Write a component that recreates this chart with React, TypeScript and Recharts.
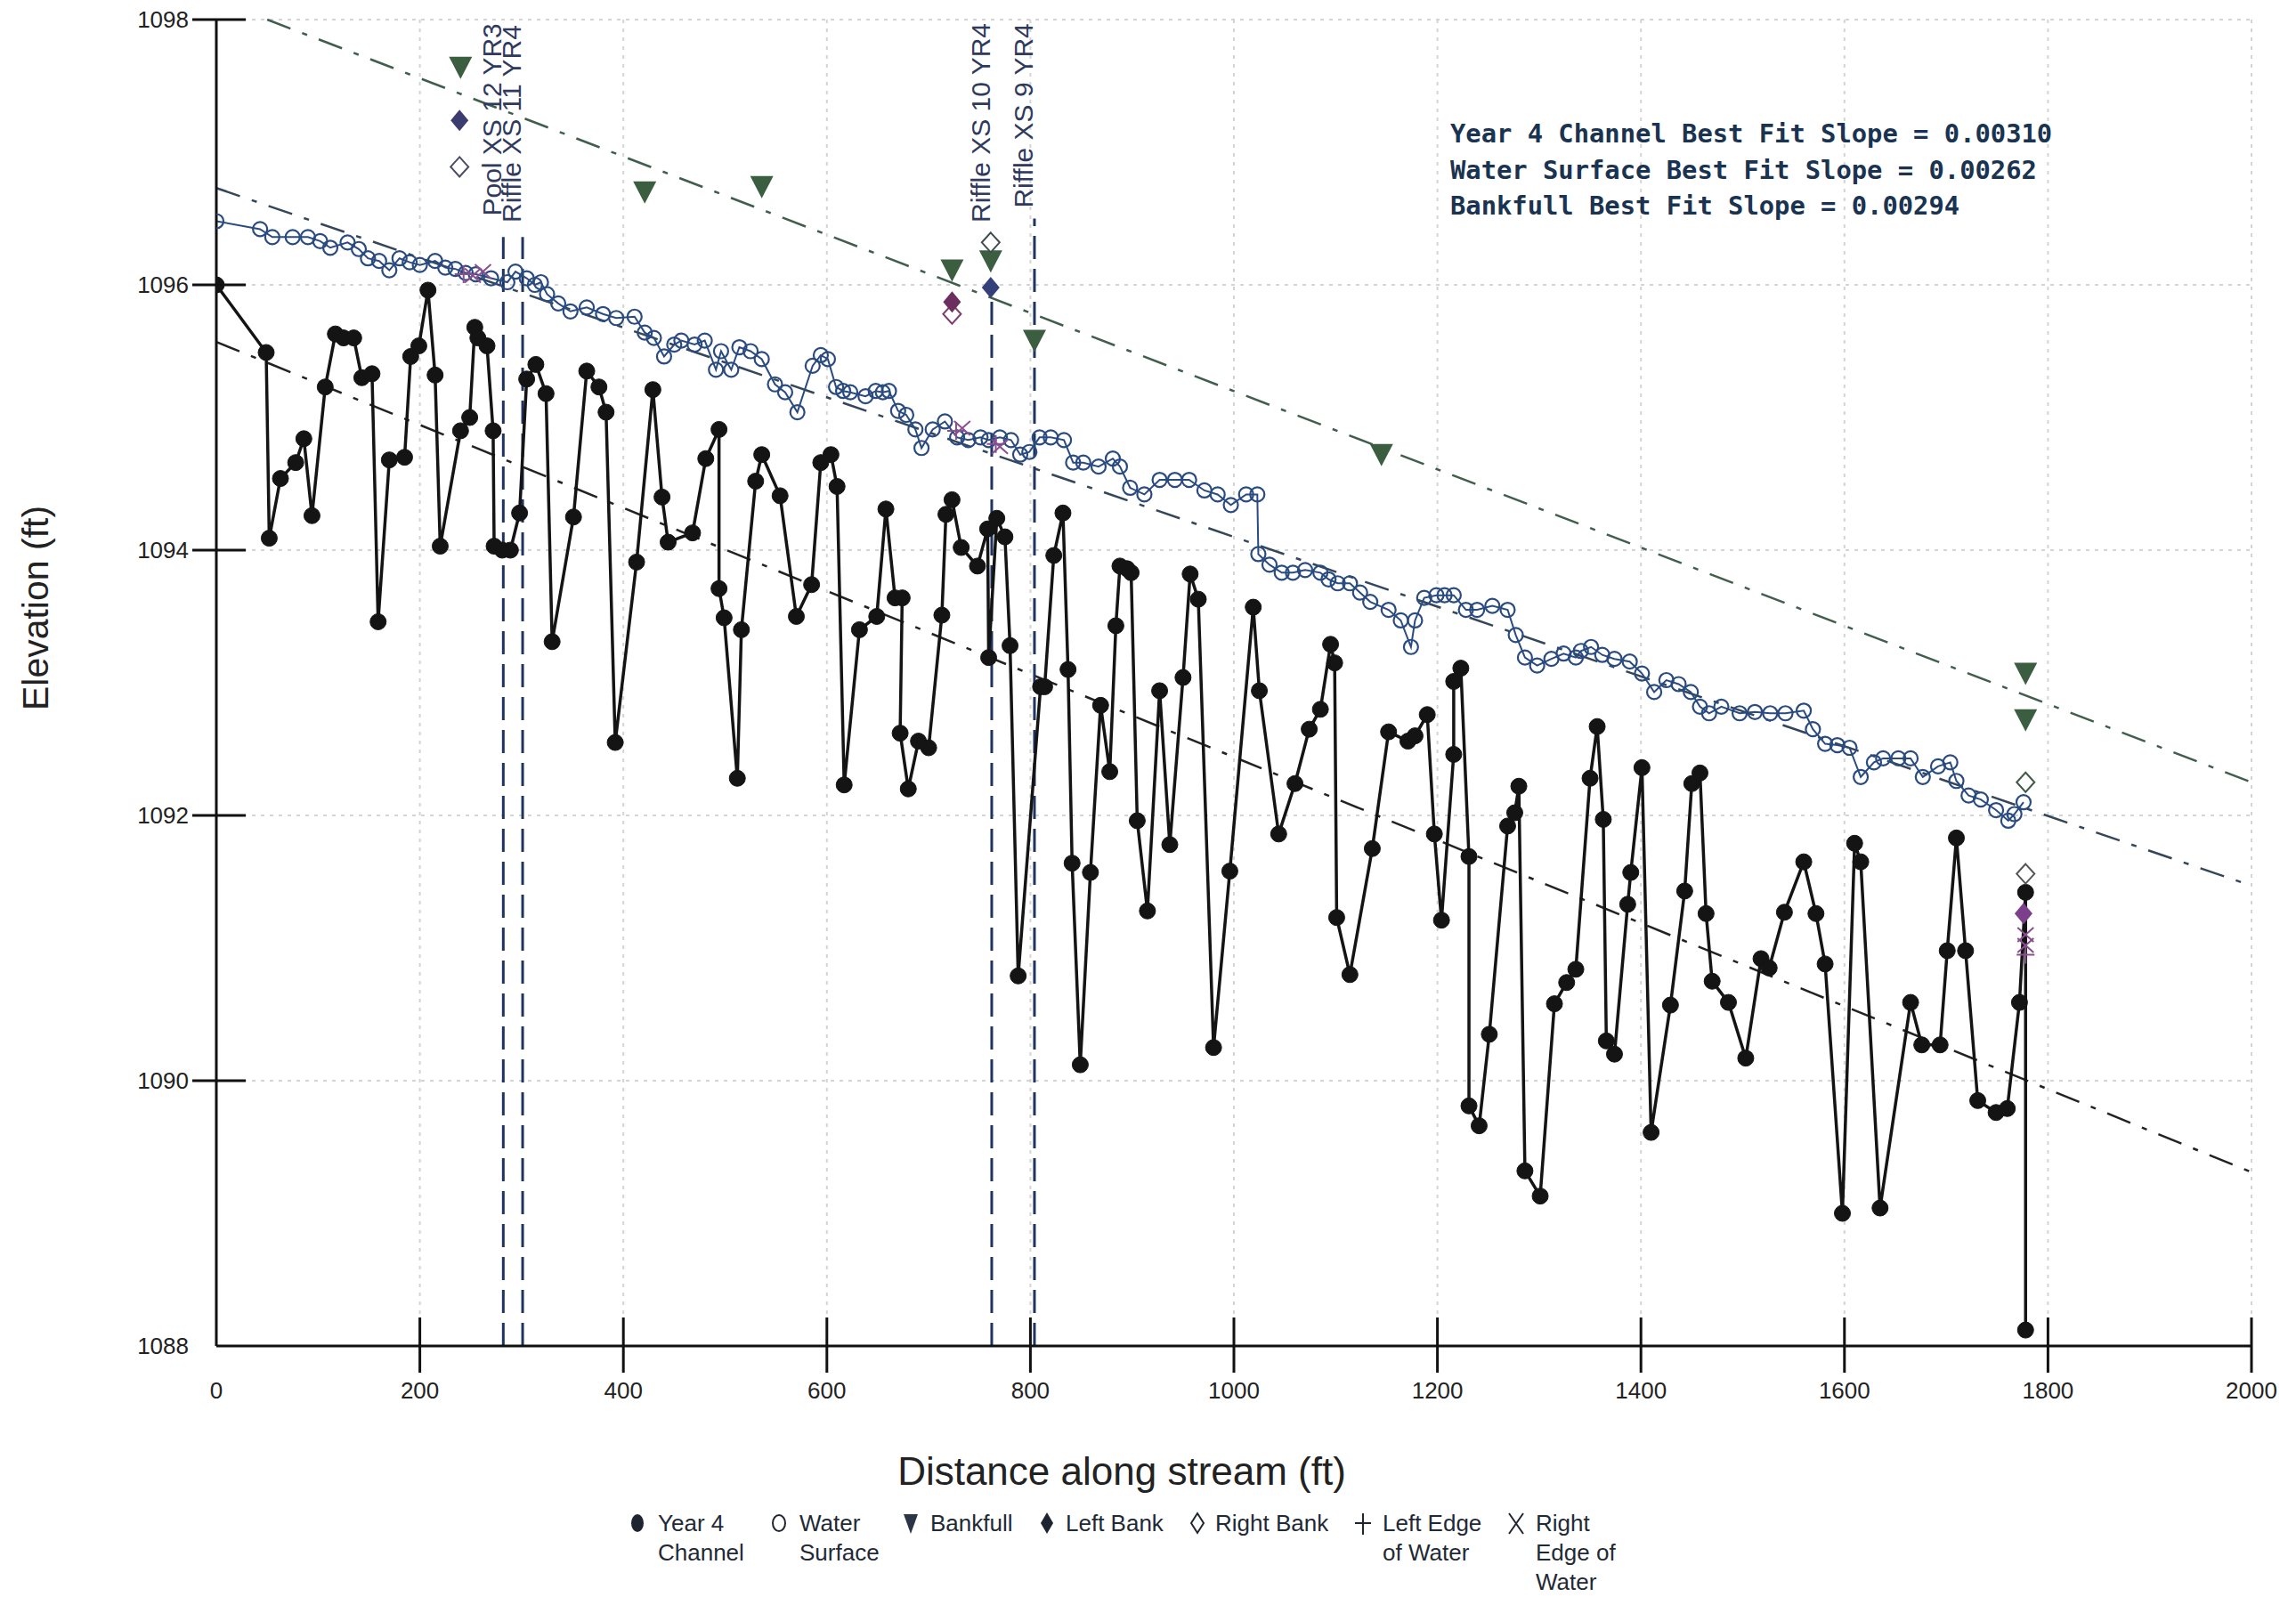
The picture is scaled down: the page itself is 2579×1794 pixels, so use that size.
import React from 'react';
import { ComposedChart, Line, Scatter, XAxis, YAxis, CartesianGrid, ReferenceLine } from 'recharts';

// ---------- data ----------
const xTicks = [0, 200, 400, 600, 800, 1000, 1200, 1400, 1600, 1800, 2000];
const yTicks = [1088, 1090, 1092, 1094, 1096, 1098];

const channelDist = [0, 49, 52, 63, 78, 86, 94, 107, 117, 125, 135, 143, 153, 159, 170, 185, 191, 199, 208, 215, 220, 240, 249, 254, 257, 266, 272, 273, 281, 289, 298, 305, 314, 324, 330, 351, 364, 376, 383, 392, 413, 429, 438, 444, 468, 481, 494, 494, 499, 512, 516, 530, 536, 554, 570, 585, 594, 604, 610, 617, 632, 649, 658, 667, 674, 672, 680, 690, 700, 713, 717, 723, 732, 748, 758, 759, 767, 775, 780, 788, 810, 814, 823, 832, 837, 841, 849, 859, 869, 878, 884, 888, 895, 899, 905, 915, 927, 937, 950, 957, 965, 980, 996, 1019, 1025, 1044, 1060, 1074, 1085, 1095, 1099, 1101, 1114, 1136, 1152, 1171, 1178, 1190, 1197, 1204, 1216, 1216, 1223, 1231, 1231, 1241, 1251, 1269, 1276, 1280, 1286, 1301, 1315, 1327, 1336, 1350, 1357, 1363, 1366, 1374, 1387, 1390, 1401, 1410, 1429, 1443, 1450, 1458, 1464, 1470, 1486, 1503, 1518, 1526, 1541, 1560, 1572, 1581, 1598, 1610, 1616, 1635, 1665, 1676, 1694, 1701, 1710, 1719, 1731, 1749, 1760, 1772, 1778, 1778];
const channelElev = [1096.0, 1095.49, 1094.09, 1094.54, 1094.66, 1094.84, 1094.26, 1095.23, 1095.63, 1095.6, 1095.6, 1095.3, 1095.33, 1093.46, 1094.68, 1094.7, 1095.46, 1095.54, 1095.96, 1095.32, 1094.03, 1094.9, 1095.0, 1095.68, 1095.6, 1095.54, 1094.9, 1094.03, 1094.0, 1094.0, 1094.28, 1095.29, 1095.4, 1095.18, 1093.31, 1094.25, 1095.35, 1095.23, 1095.04, 1092.55, 1093.91, 1095.21, 1094.4, 1094.06, 1094.13, 1094.69, 1094.91, 1093.71, 1093.49, 1092.28, 1093.4, 1094.52, 1094.72, 1094.41, 1093.5, 1093.74, 1094.66, 1094.72, 1094.48, 1092.23, 1093.4, 1093.5, 1094.31, 1093.64, 1093.64, 1092.62, 1092.2, 1092.56, 1092.51, 1093.51, 1094.27, 1094.38, 1094.02, 1093.88, 1094.16, 1093.19, 1094.24, 1094.1, 1093.28, 1090.79, 1092.97, 1092.97, 1093.96, 1094.28, 1093.1, 1091.64, 1090.12, 1091.57, 1092.83, 1092.33, 1093.43, 1093.88, 1093.86, 1093.83, 1091.96, 1091.28, 1092.94, 1091.78, 1093.04, 1093.82, 1093.63, 1090.25, 1091.58, 1093.57, 1092.94, 1091.86, 1092.24, 1092.65, 1092.8, 1093.29, 1093.15, 1091.23, 1090.8, 1091.75, 1092.63, 1092.56, 1092.6, 1092.76, 1091.86, 1091.21, 1092.46, 1093.01, 1093.11, 1091.69, 1089.81, 1089.66, 1090.35, 1091.92, 1092.02, 1092.22, 1089.32, 1089.13, 1090.58, 1090.74, 1090.84, 1092.28, 1092.67, 1091.97, 1090.3, 1090.2, 1091.33, 1091.57, 1092.36, 1089.61, 1090.57, 1091.43, 1092.24, 1092.32, 1091.26, 1090.75, 1090.59, 1090.17, 1090.92, 1090.85, 1091.27, 1091.65, 1091.26, 1090.88, 1089.0, 1091.79, 1091.65, 1089.04, 1090.59, 1090.27, 1090.27, 1090.98, 1091.83, 1090.98, 1089.85, 1089.76, 1089.79, 1090.59, 1091.42, 1088.12];

const waterDist = [0, 43, 55, 75, 90, 102, 112, 129, 140, 149, 160, 170, 180, 190, 200, 215, 225, 235, 245, 255, 270, 286, 294, 305, 313, 319, 325, 336, 348, 364, 380, 393, 411, 421, 430, 440, 450, 457, 470, 480, 491, 496, 506, 514, 525, 536, 549, 559, 571, 586, 594, 601, 609, 616, 623, 638, 648, 655, 661, 670, 678, 687, 693, 704, 716, 728, 739, 751, 759, 770, 781, 790, 799, 809, 820, 833, 842, 852, 867, 881, 888, 898, 912, 927, 942, 956, 971, 984, 997, 1012, 1023, 1024, 1035, 1047, 1058, 1070, 1085, 1093, 1102, 1114, 1124, 1134, 1152, 1164, 1174, 1178, 1187, 1199, 1207, 1216, 1228, 1239, 1254, 1269, 1277, 1286, 1298, 1312, 1324, 1336, 1341, 1351, 1362, 1374, 1389, 1401, 1413, 1425, 1437, 1449, 1458, 1467, 1479, 1497, 1512, 1527, 1542, 1560, 1569, 1581, 1593, 1605, 1616, 1629, 1638, 1653, 1665, 1677, 1692, 1704, 1710, 1722, 1734, 1749, 1761, 1767, 1776];
const waterElev = [1096.48, 1096.42, 1096.36, 1096.36, 1096.36, 1096.33, 1096.28, 1096.32, 1096.27, 1096.2, 1096.18, 1096.11, 1096.2, 1096.17, 1096.15, 1096.18, 1096.13, 1096.12, 1096.09, 1096.08, 1096.05, 1096.02, 1096.1, 1096.05, 1096.0, 1096.02, 1095.93, 1095.86, 1095.8, 1095.83, 1095.78, 1095.75, 1095.76, 1095.64, 1095.6, 1095.46, 1095.55, 1095.58, 1095.55, 1095.58, 1095.36, 1095.5, 1095.36, 1095.53, 1095.5, 1095.44, 1095.25, 1095.19, 1095.04, 1095.39, 1095.47, 1095.44, 1095.23, 1095.2, 1095.19, 1095.16, 1095.2, 1095.19, 1095.2, 1095.05, 1095.02, 1094.91, 1094.77, 1094.91, 1094.97, 1094.85, 1094.83, 1094.85, 1094.83, 1094.85, 1094.83, 1094.72, 1094.74, 1094.85, 1094.85, 1094.83, 1094.66, 1094.66, 1094.63, 1094.69, 1094.63, 1094.47, 1094.42, 1094.53, 1094.53, 1094.53, 1094.45, 1094.42, 1094.34, 1094.42, 1094.42, 1093.97, 1093.89, 1093.83, 1093.83, 1093.85, 1093.83, 1093.78, 1093.75, 1093.75, 1093.68, 1093.61, 1093.55, 1093.47, 1093.27, 1093.47, 1093.64, 1093.66, 1093.66, 1093.66, 1093.55, 1093.55, 1093.58, 1093.55, 1093.36, 1093.19, 1093.13, 1093.18, 1093.22, 1093.19, 1093.24, 1093.27, 1093.21, 1093.18, 1093.16, 1093.07, 1092.93, 1093.02, 1092.99, 1092.93, 1092.82, 1092.77, 1092.82, 1092.77, 1092.78, 1092.77, 1092.77, 1092.79, 1092.65, 1092.54, 1092.53, 1092.51, 1092.29, 1092.4, 1092.43, 1092.43, 1092.43, 1092.29, 1092.37, 1092.4, 1092.26, 1092.15, 1092.12, 1092.04, 1091.96, 1092.01, 1092.1];

const bankfullDist = [240, 421, 536, 723, 761, 804, 1145, 1778, 1778];
const bankfullElev = [1097.64, 1096.7, 1096.74, 1096.11, 1096.18, 1095.58, 1094.72, 1093.07, 1092.72];

const leftBankDist = [239, 723, 761, 1776];
const leftBankElev = [1097.24, 1095.87, 1095.98, 1091.26];

const rightBankDist = [239, 723, 761, 1778, 1778];
const rightBankElev = [1096.89, 1095.78, 1096.32, 1092.25, 1091.56];

const leftEdgeDist = [243, 727, 766, 1778];
const leftEdgeElev = [1096.08, 1094.9, 1094.8, 1090.95];

const rightEdgeDist = [252, 262, 733, 770, 1778, 1778];
const rightEdgeElev = [1096.07, 1096.1, 1094.92, 1094.78, 1091.1, 1091.02];

// best fit lines: [x0, y0, x1, y1]
const bankfullFit = [50, 1098.0, 2000, 1092.25];
const waterFit = [0, 1096.73, 2000, 1091.47];
const channelFit = [0, 1095.57, 2000, 1089.31];

// cross-section markers
const xsNames = ['Pool XS 12 YR3', 'Riffle XS 11 YR4', 'Riffle XS 10 YR4', 'Riffle XS 9 YR4'];
const xsDist = [282, 301, 762, 804];
const xsTop = [1096.36, 1096.36, 1095.91, 1096.5];
const xsLabelStart = [1096.52, 1096.47, 1096.47, 1096.58];

const slopeNotes = [
  'Year 4 Channel Best Fit Slope = 0.00310',
  'Water Surface Best Fit Slope = 0.00262',
  'Bankfull Best Fit Slope = 0.00294',
];

// ---------- styles ----------
const FONT = "'Liberation Sans', Arial, Helvetica, sans-serif";
const C_CHANNEL = '#141414';
const C_WATER = '#2a4b80';
const C_BANKFULL = '#3b5d40';
const C_EDGE = '#8a4f8e';
const leftBankColors = ['#3c3c6e', '#6b2f5f', '#34407a', '#7b3f8b'];
const rightBankColors = ['#4a4a6a', '#7b3f70', '#3d4d4d', '#3f5a45', '#555555'];

// ---------- built series ----------
const zip = (xs: number[], ys: number[]) => xs.map((x, i) => ({ x, y: ys[i] }));
const channelData = zip(channelDist, channelElev);
const waterData = zip(waterDist, waterElev);
const bankfullData = zip(bankfullDist, bankfullElev);
const leftBankData = zip(leftBankDist, leftBankElev).map((d, i) => ({ ...d, color: leftBankColors[i] }));
const rightBankData = zip(rightBankDist, rightBankElev).map((d, i) => ({ ...d, color: rightBankColors[i] }));
const leftEdgeData = zip(leftEdgeDist, leftEdgeElev);
const rightEdgeData = zip(rightEdgeDist, rightEdgeElev);
const xsLabelData = xsDist.map((x, i) => ({ x, y: xsLabelStart[i], label: xsNames[i] }));

// ---------- shapes ----------
const TriDown = (p: any) => (
  <polygon points={`${p.cx - 13},${p.cy - 12} ${p.cx + 13},${p.cy - 12} ${p.cx},${p.cy + 13}`} fill={C_BANKFULL} />
);
const DiamondFilled = (p: any) => (
  <polygon points={`${p.cx},${p.cy - 12} ${p.cx + 10},${p.cy} ${p.cx},${p.cy + 12} ${p.cx - 10},${p.cy}`} fill={p.payload.color} />
);
const DiamondOpen = (p: any) => (
  <polygon points={`${p.cx},${p.cy - 11} ${p.cx + 10},${p.cy} ${p.cx},${p.cy + 11} ${p.cx - 10},${p.cy}`} fill="#fff" stroke={p.payload.color} strokeWidth={2} />
);
const PlusMark = (p: any) => (
  <path d={`M${p.cx - 10},${p.cy} H${p.cx + 10} M${p.cx},${p.cy - 10} V${p.cy + 10}`} stroke={C_EDGE} strokeWidth={2} fill="none" />
);
const CrossMark = (p: any) => (
  <path d={`M${p.cx - 9},${p.cy - 8} L${p.cx + 9},${p.cy + 8} M${p.cx + 9},${p.cy - 8} L${p.cx - 9},${p.cy + 8}`} stroke={C_EDGE} strokeWidth={2} fill="none" />
);
const XsLabel = (p: any) => (
  <text
    x={0}
    y={0}
    transform={`translate(${p.cx - 2},${p.cy}) rotate(-90)`}
    textAnchor="start"
    fontSize={30}
    fontFamily={FONT}
    fill="#2f3a5c"
  >
    {p.payload.label}
  </text>
);

const XTick = (p: any) => {
  const v = p.payload.value;
  return (
    <g>
      {v !== 0 && <line x1={p.x} x2={p.x} y1={p.y - 32} y2={p.y + 30} stroke="#111" strokeWidth={3} />}
      <text x={p.x} y={p.y + 59} textAnchor="middle" fontSize={26} fontFamily={FONT} fill="#222">
        {v}
      </text>
    </g>
  );
};
const YTick = (p: any) => {
  const v = p.payload.value;
  return (
    <g>
      {v !== 1088 && <line x1={p.x - 27} x2={p.x + 33} y1={p.y} y2={p.y} stroke="#111" strokeWidth={3} />}
      <text x={p.x - 31} y={p.y + 9} textAnchor="end" fontSize={26} fontFamily={FONT} fill="#222">
        {v}
      </text>
    </g>
  );
};

const legendItems = [
  { mx: 716, tx: 739, lines: ['Year 4', 'Channel'], kind: 'dot' },
  { mx: 875, tx: 898, lines: ['Water', 'Surface'], kind: 'circle' },
  { mx: 1023, tx: 1045, lines: ['Bankfull'], kind: 'tri' },
  { mx: 1176, tx: 1197, lines: ['Left Bank'], kind: 'dia' },
  { mx: 1345, tx: 1365, lines: ['Right Bank'], kind: 'odia' },
  { mx: 1531, tx: 1553, lines: ['Left Edge', 'of Water'], kind: 'plus' },
  { mx: 1703, tx: 1725, lines: ['Right', 'Edge of', 'Water'], kind: 'cross' },
];

const LegendMarker = ({ kind, x, y }: { kind: string; x: number; y: number }) => {
  const c = '#1f2530';
  switch (kind) {
    case 'dot':
      return <ellipse cx={x} cy={y} rx={7} ry={10} fill={c} />;
    case 'circle':
      return <ellipse cx={x} cy={y} rx={7} ry={9} fill="none" stroke={c} strokeWidth={2} />;
    case 'tri':
      return <polygon points={`${x - 8},${y - 10} ${x + 8},${y - 10} ${x},${y + 12}`} fill="#2c3545" />;
    case 'dia':
      return <polygon points={`${x},${y - 12} ${x + 7},${y} ${x},${y + 12} ${x - 7},${y}`} fill={c} />;
    case 'odia':
      return <polygon points={`${x},${y - 11} ${x + 7},${y} ${x},${y + 11} ${x - 7},${y}`} fill="none" stroke={c} strokeWidth={2} />;
    case 'plus':
      return <path d={`M${x - 9},${y} H${x + 9} M${x},${y - 11} V${y + 13}`} stroke={c} strokeWidth={2} />;
    default:
      return <path d={`M${x - 8},${y - 11} L${x + 8},${y + 12} M${x + 8},${y - 11} L${x - 8},${y + 12}`} stroke={c} strokeWidth={2} />;
  }
};

export default function App() {
  return (
    <div style={{ position: 'absolute', left: 0, top: 0, width: 2579, height: 1794, background: '#fff', overflow: 'hidden' }}>
      <ComposedChart width={2579} height={1794} margin={{ top: 22, right: 50, left: 0, bottom: 0 }}>
        <CartesianGrid stroke="#d4d4d4" strokeDasharray="4 6" strokeWidth={2} />
        <XAxis
          type="number"
          dataKey="x"
          domain={[0, 2000]}
          ticks={xTicks}
          interval={0}
          height={282}
          tickSize={0}
          tickMargin={0}
          tickLine={false}
          tick={(p: any) => <XTick {...p} />}
          axisLine={{ stroke: '#111', strokeWidth: 3 }}
          allowDataOverflow
        />
        <YAxis
          type="number"
          dataKey="y"
          domain={[1088, 1098]}
          ticks={yTicks}
          interval={0}
          width={243}
          tickSize={0}
          tickMargin={0}
          tickLine={false}
          tick={(p: any) => <YTick {...p} />}
          axisLine={{ stroke: '#111', strokeWidth: 3 }}
          allowDataOverflow
        />

        <ReferenceLine
          segment={[{ x: bankfullFit[0], y: bankfullFit[1] }, { x: bankfullFit[2], y: bankfullFit[3] }]}
          stroke="#3f5e4c"
          strokeWidth={2.5}
          strokeDasharray="28 14 6 14"
          ifOverflow="visible"
        />
        <ReferenceLine
          segment={[{ x: waterFit[0], y: waterFit[1] }, { x: waterFit[2], y: waterFit[3] }]}
          stroke="#34465a"
          strokeWidth={2.5}
          strokeDasharray="28 14 6 14"
          ifOverflow="visible"
        />
        <ReferenceLine
          segment={[{ x: channelFit[0], y: channelFit[1] }, { x: channelFit[2], y: channelFit[3] }]}
          stroke="#222"
          strokeWidth={2.5}
          strokeDasharray="28 14 6 14"
          ifOverflow="visible"
        />
        {xsDist.map((x, i) => (
          <ReferenceLine
            key={xsNames[i]}
            segment={[{ x, y: 1088 }, { x, y: xsTop[i] }]}
            stroke="#1f3460"
            strokeWidth={3}
            strokeDasharray="26 11"
            ifOverflow="visible"
          />
        ))}

        <Line
          data={waterData}
          dataKey="y"
          type="linear"
          stroke={C_WATER}
          strokeWidth={2}
          dot={{ r: 8, fill: 'none', stroke: C_WATER, strokeWidth: 2.2 }}
          activeDot={false}
          isAnimationActive={false}
        />
        <Line
          data={channelData}
          dataKey="y"
          type="linear"
          stroke={C_CHANNEL}
          strokeWidth={3.5}
          dot={{ r: 9, fill: C_CHANNEL, stroke: C_CHANNEL, strokeWidth: 1 }}
          activeDot={false}
          isAnimationActive={false}
        />
        <Scatter data={bankfullData} dataKey="y" shape={TriDown} isAnimationActive={false} />
        <Scatter data={rightBankData} dataKey="y" shape={DiamondOpen} isAnimationActive={false} />
        <Scatter data={leftBankData} dataKey="y" shape={DiamondFilled} isAnimationActive={false} />
        <Scatter data={leftEdgeData} dataKey="y" shape={PlusMark} isAnimationActive={false} />
        <Scatter data={rightEdgeData} dataKey="y" shape={CrossMark} isAnimationActive={false} />
        <Scatter data={xsLabelData} dataKey="y" shape={XsLabel} isAnimationActive={false} />
      </ComposedChart>

      <svg
        width={2579}
        height={1794}
        style={{ position: 'absolute', left: 0, top: 0, pointerEvents: 'none' }}
      >
        <defs>
          <clipPath id="noteClip">
            <rect x={0} y={0} width={2306} height={1794} />
          </clipPath>
        </defs>
        <g clipPath="url(#noteClip)">
          {slopeNotes.map((t, i) => (
            <text
              key={t}
              x={1629}
              y={160 + i * 40.5}
              fontFamily="'DejaVu Sans Mono', monospace"
              fontWeight="bold"
              fontSize={28.8}
              fill="#1a3350"
            >
              {t}
            </text>
          ))}
        </g>

        <text
          transform="translate(54,683) rotate(-90)"
          textAnchor="middle"
          fontSize={41}
          fontFamily={FONT}
          fill="#222"
        >
          Elevation (ft)
        </text>
        <text x={1260} y={1668} textAnchor="middle" fontSize={44} fontFamily={FONT} fill="#222">
          Distance along stream (ft)
        </text>

        {legendItems.map((it) => (
          <g key={it.lines.join(' ')}>
            <LegendMarker kind={it.kind} x={it.mx} y={1711} />
            {it.lines.map((ln, j) => (
              <text key={ln} x={it.tx} y={1720 + j * 33} fontSize={26} fontFamily={FONT} fill="#1f2a36">
                {ln}
              </text>
            ))}
          </g>
        ))}
      </svg>
    </div>
  );
}
